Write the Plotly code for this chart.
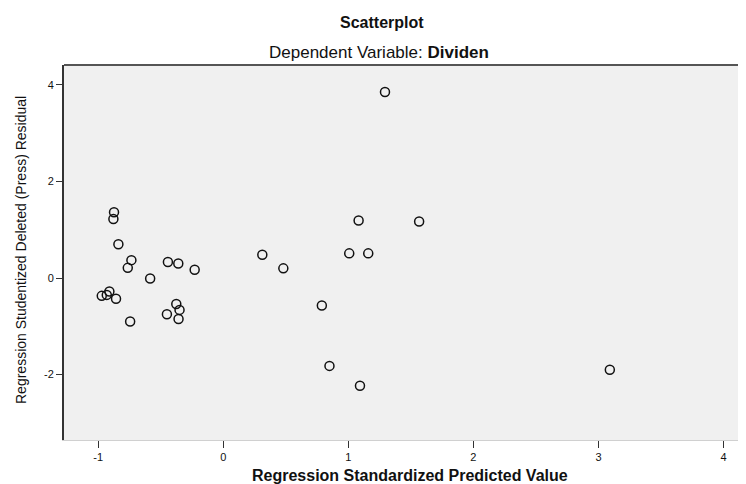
import plotly.graph_objects as go

# Regression standardized predicted value (x) and studentized deleted residual (y)
pred = [-0.874, -0.879, -0.839, -0.735, -0.764, -0.443, -0.360, -0.229, -0.585,
        -0.972, -0.911, -0.932, -0.858, -0.745, -0.376, -0.350, -0.451, -0.358,
        0.312, 0.480, 0.788, 1.007, 1.159, 1.082, 1.566, 1.293, 0.849, 1.093, 3.091]
resid = [1.36, 1.22, 0.70, 0.37, 0.21, 0.33, 0.30, 0.17, -0.01,
         -0.37, -0.28, -0.35, -0.43, -0.90, -0.54, -0.66, -0.75, -0.85,
         0.48, 0.20, -0.57, 0.51, 0.51, 1.19, 1.17, 3.85, -1.82, -2.23, -1.90]

x_ticks = [-1, 0, 1, 2, 3, 4]
y_ticks = [-2, 0, 2, 4]

# page has an 8px body margin; figure is laid out in its own pixel frame
W, H = 738, 476
L, R, T, B = 56, 0, 57, 44
PW, PH = W - L - R, H - T - B
OFF = 8


def px(x_page):
    return (x_page - OFF - L) / PW


def py(y_page):
    return (H - B - (y_page - OFF)) / PH


fig = go.Figure()
fig.add_trace(go.Scatter(
    x=pred, y=resid, mode="markers",
    marker=dict(symbol="circle-open", size=9, color="#111111", line=dict(width=1.5)),
    showlegend=False, hoverinfo="x+y",
))

font = "Liberation Sans, Arial, sans-serif"
fig.update_layout(
    width=W, height=H,
    margin=dict(l=L, r=R, t=T, b=B, pad=0),
    paper_bgcolor="white", plot_bgcolor="#f0f0f0",
    font=dict(family=font, color="#111111", size=11),
    xaxis=dict(range=[-1.274, 4.18], tickvals=x_ticks, ticktext=[str(v) for v in x_ticks],
               showgrid=False, zeroline=False, showline=True, linecolor="#d0d0d0", linewidth=1,
               ticks="outside", ticklen=7, tickwidth=1, tickcolor="#333333",
               tickfont=dict(size=11), fixedrange=True),
    yaxis=dict(range=[-3.354, 4.41], tickvals=y_ticks, ticktext=[str(v) for v in y_ticks],
               showgrid=False, zeroline=False, showline=True, linecolor="#333333", linewidth=2,
               ticks="outside", ticklen=6, tickwidth=1, tickcolor="#333333",
               tickfont=dict(size=11), fixedrange=True),
    shapes=[dict(type="line", xref="paper", yref="paper", x0=0, x1=1, y0=1, y1=1,
                 line=dict(color="#555555", width=2))],
    annotations=[
        dict(text="<b>Scatterplot</b>", x=px(382), y=py(23), xref="paper", yref="paper",
             xanchor="center", yanchor="middle", showarrow=False, font=dict(size=16)),
        dict(text="Dependent Variable: <b>Dividen</b>", x=px(379), y=py(53), xref="paper",
             yref="paper", xanchor="center", yanchor="middle", showarrow=False,
             font=dict(size=17)),
        dict(text="<b>Regression Standardized Predicted Value</b>", x=px(410), y=py(475),
             xref="paper", yref="paper", xanchor="center", yanchor="middle",
             showarrow=False, font=dict(size=16)),
        dict(text="Regression Studentized Deleted (Press) Residual", x=px(21), y=py(250),
             xref="paper", yref="paper", xanchor="center", yanchor="middle",
             showarrow=False, textangle=-90, font=dict(size=14)),
    ],
)

fig.write_html("out.html")
